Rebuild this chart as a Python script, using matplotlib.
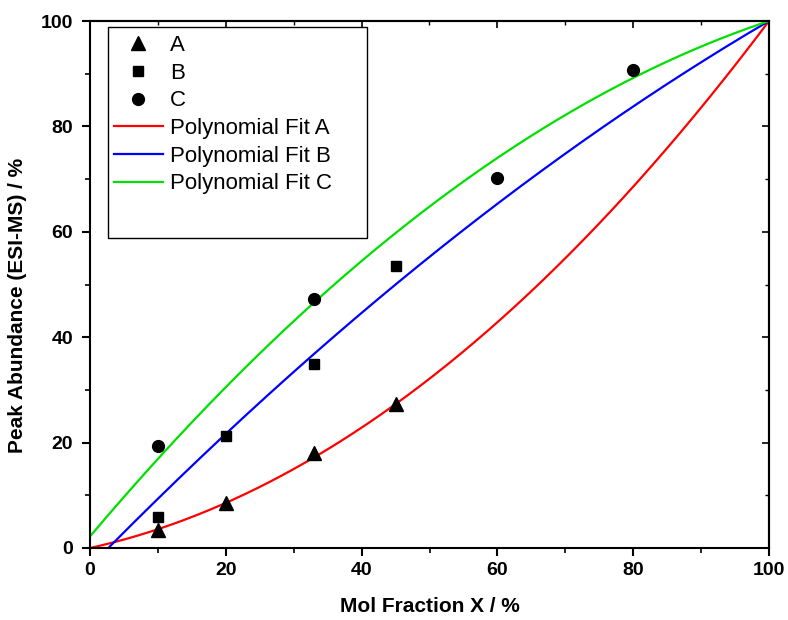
import numpy as np
import matplotlib
matplotlib.use("Agg")
import matplotlib.pyplot as plt
from matplotlib.ticker import MultipleLocator
from matplotlib.patches import Rectangle

plt.rcParams['font.family'] = ['Liberation Sans', 'DejaVu Sans']

# Data
xA = [10, 20, 33, 45]
yA = [3.5, 8.5, 18.0, 27.3]
xB = [10, 20, 33, 45]
yB = [5.8, 21.2, 35.0, 53.5]
xC = [10, 33, 60, 80]
yC = [19.4, 47.3, 70.3, 90.7]

# Polynomial fit coefficients (c0, c1, c2)
fitA = [0.0, 0.285, 0.00715]
fitB = [-3.532, 1.3158, -0.002805]
fitC = [2.2, 1.5255, -0.005475]

W, H = 788, 620
L, R, B, T = 90, 769, 548, 21
fig = plt.figure(figsize=(W/100, H/100), dpi=100)
ax = fig.add_axes([L/W, (H-B)/H, (R-L)/W, (B-T)/H])

ax.plot(xA, yA, linestyle='none', marker='^', color='black', markersize=10, label='A', zorder=3)
ax.plot(xB, yB, linestyle='none', marker='s', color='black', markersize=7.5, label='B', zorder=3)
ax.plot(xC, yC, linestyle='none', marker='o', color='black', markersize=8.5, label='C', zorder=3)

xs = np.linspace(0, 100, 400)
def poly(c, x):
    return c[0] + c[1]*x + c[2]*x**2
ax.plot(xs, poly(fitA, xs), color='#ff0000', lw=1.6, label='Polynomial Fit A', zorder=2)
ax.plot(xs, poly(fitB, xs), color='#0000ff', lw=1.6, label='Polynomial Fit B', zorder=2)
ax.plot(xs, poly(fitC, xs), color='#00e000', lw=1.6, label='Polynomial Fit C', zorder=2)

ax.set_xlim(0, 100)
ax.set_ylim(0, 100)
ax.xaxis.set_major_locator(MultipleLocator(20))
ax.xaxis.set_minor_locator(MultipleLocator(10))
ax.yaxis.set_major_locator(MultipleLocator(20))
ax.yaxis.set_minor_locator(MultipleLocator(10))

for s in ax.spines.values():
    s.set_linewidth(1.5)

ax.tick_params(axis='both', which='major', direction='out', length=6, width=1.5,
               labelsize=14, pad=4)
ax.tick_params(axis='y', which='major', pad=6)
ax.tick_params(axis='both', which='minor', direction='out', length=3.5, width=1.2)
for lab in ax.get_xticklabels() + ax.get_yticklabels():
    lab.set_fontweight('bold')

# top/right inward ticks
axt = ax.secondary_xaxis('top')
axt.xaxis.set_major_locator(MultipleLocator(20))
axt.xaxis.set_minor_locator(MultipleLocator(10))
axt.tick_params(which='major', direction='in', length=5, width=1.2, labeltop=False)
axt.tick_params(which='minor', direction='in', length=3, width=1.0)
axr = ax.secondary_yaxis('right')
axr.yaxis.set_major_locator(MultipleLocator(20))
axr.yaxis.set_minor_locator(MultipleLocator(10))
axr.tick_params(which='major', direction='in', length=5, width=1.2, labelright=False)
axr.tick_params(which='minor', direction='in', length=3, width=1.0)
axt.spines['top'].set_linewidth(1.5)
axr.spines['right'].set_linewidth(1.5)

ax.set_xlabel('Mol Fraction X / %', fontsize=15, fontweight='bold', va='center')
ax.xaxis.set_label_coords(0.5, (B-607)/(B-T))
ax.set_ylabel('Peak Abundance (ESI-MS) / %', fontsize=15, fontweight='bold', va='center')
ax.yaxis.set_label_coords((18-L)/(R-L), (B-305)/(B-T))

# legend
leg = ax.legend(loc='upper left', bbox_to_anchor=((114-L)/(R-L), 1 - (35-T)/(B-T)), fontsize=16,
                frameon=False, borderpad=0.0,
                handlelength=2.2, handletextpad=0.32, labelspacing=0.3, borderaxespad=0)
frame = Rectangle(((108-L)/(R-L), (B-238)/(B-T)), (367-108)/(R-L), (238-27)/(B-T),
                  transform=ax.transAxes, facecolor='white', edgecolor='black', lw=1.0, zorder=4)
ax.add_patch(frame)
leg.set_zorder(5)

fig.savefig('out.png', dpi=100)
